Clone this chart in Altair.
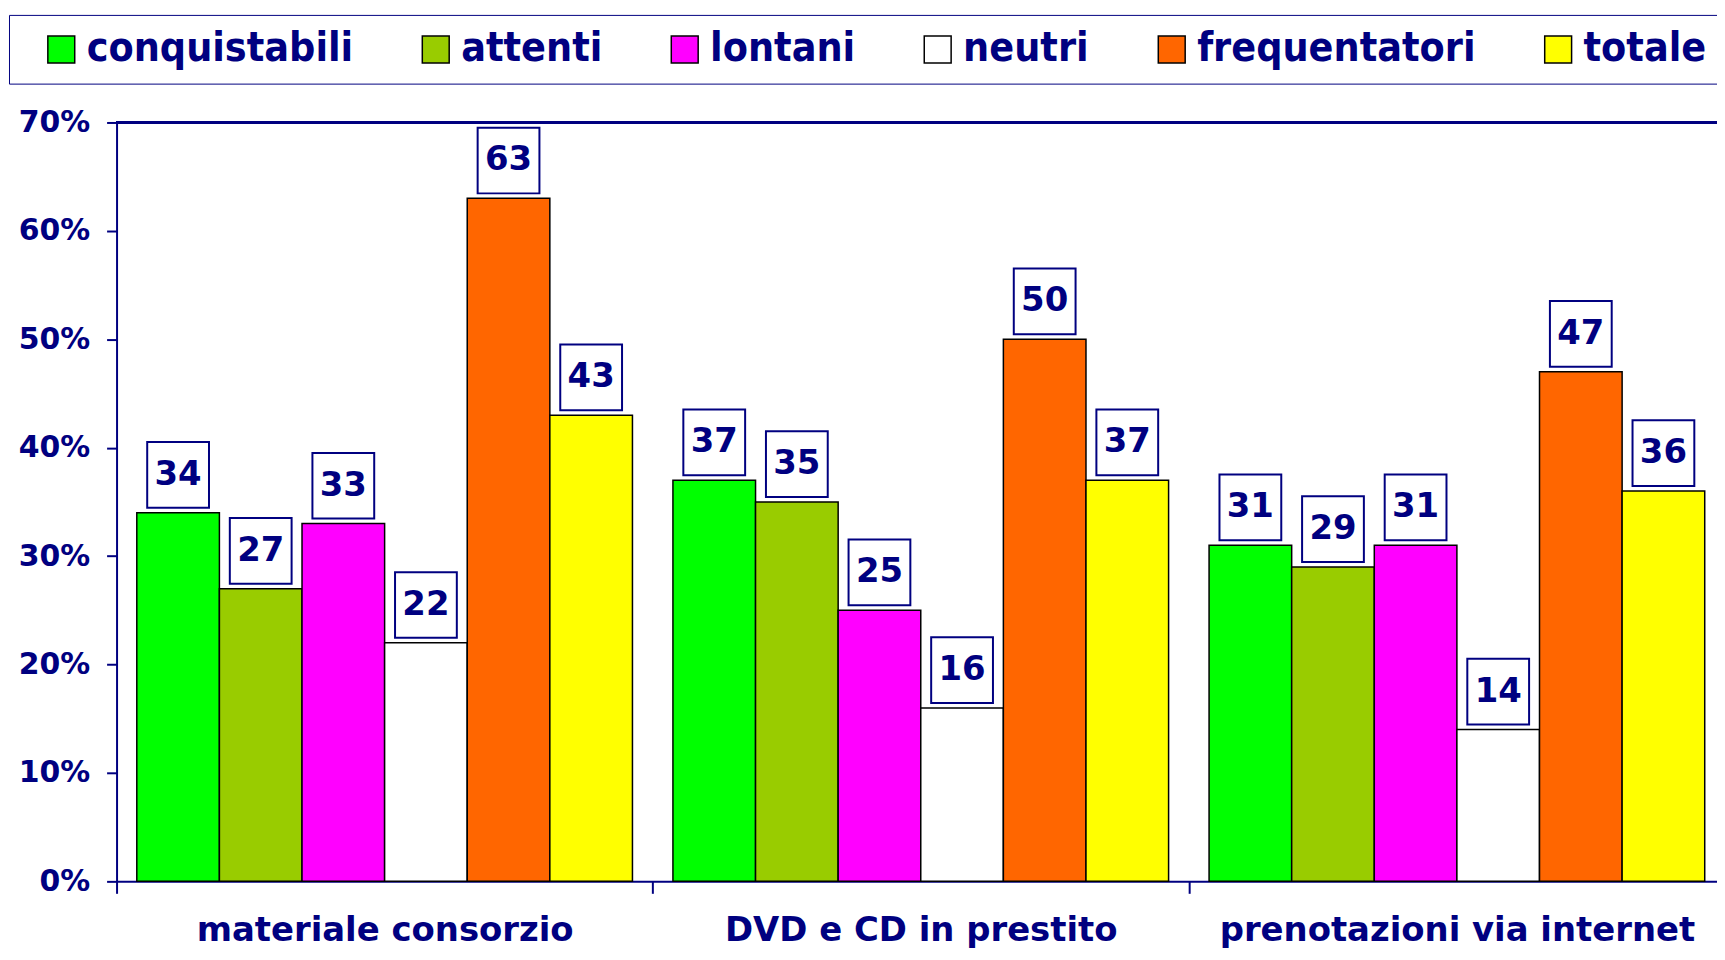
import altair as alt
import pandas as pd

categorie = ["materiale consorzio", "DVD e CD in prestito", "prenotazioni via internet"]
serie = ["conquistabili", "attenti", "lontani", "neutri", "frequentatori", "totale"]
colori = ["#00FF00", "#99CC00", "#FF00FF", "#FFFFFF", "#FF6600", "#FFFF00"]

conquistabili = [34, 37, 31]
attenti = [27, 35, 29]
lontani = [33, 25, 31]
neutri = [22, 16, 14]
frequentatori = [63, 50, 47]
totale = [43, 37, 36]

valori = {
    "conquistabili": conquistabili,
    "attenti": attenti,
    "lontani": lontani,
    "neutri": neutri,
    "frequentatori": frequentatori,
    "totale": totale,
}

righe = []
for s in serie:
    for c, v in zip(categorie, valori[s]):
        righe.append({"categoria": c, "serie": s, "valore": v / 100.0, "etichetta": str(v)})
df = pd.DataFrame(righe)

NAVY = "#000080"
BOLD = "DejaVu Sans"
NARROW = "DejaVu Sans Condensed, Liberation Sans Narrow, DejaVu Sans"

base = alt.Chart(df).encode(
    x=alt.X(
        "categoria:N",
        sort=categorie,
        scale=alt.Scale(range=[0, 1615], paddingInner=0, paddingOuter=0),
        axis=alt.Axis(
            title=None,
            labelAngle=0,
            labelFont=BOLD,
            labelFontWeight="bold",
            labelFontSize=34,
            labelColor=NAVY,
            labelBaseline="alphabetic",
            labelPadding=47,
            labelLimit=0,
            tickBand="extent",
            tickSize=12,
            tickColor=NAVY,
            tickWidth=2,
            domainColor=NAVY,
            domainWidth=2,
            grid=False,
        ),
    ),
    xOffset=alt.XOffset(
        "serie:N", sort=serie, scale=alt.Scale(paddingInner=0, paddingOuter=0.245)
    ),
    y=alt.Y(
        "valore:Q",
        scale=alt.Scale(domain=[0, 0.7], nice=False),
        axis=alt.Axis(
            title=None,
            format=".0%",
            values=[0, 0.1, 0.2, 0.3, 0.4, 0.5, 0.6, 0.7],
            labelFont=BOLD,
            labelFontWeight="bold",
            labelFontSize=30,
            labelColor=NAVY,
            labelPadding=17,
            tickSize=10,
            tickColor=NAVY,
            tickWidth=2,
            domainColor=NAVY,
            domainWidth=2,
            grid=False,
        ),
    ),
)

bars = base.mark_bar(stroke="black", strokeWidth=1.5).encode(
    color=alt.Color(
        "serie:N",
        sort=serie,
        scale=alt.Scale(domain=serie, range=colori),
        legend=alt.Legend(
            orient="none",
            legendX=-108,
            legendY=-108,
            direction="horizontal",
            title=" ",
            titleOrient="left",
            titleFontSize=10,
            titlePadding=18,
            symbolType="square",
            symbolSize=729,
            symbolStrokeColor="black",
            symbolStrokeWidth=1.5,
            symbolOpacity=1,
            labelFont=NARROW,
            labelFontWeight="bold",
            labelFontSize=41,
            labelColor=NAVY,
            labelOffset=5,
            labelLimit=0,
            columnPadding=62,
            padding=14,
            strokeColor=NAVY,
            fillColor="white",
        ),
    )
)

boxes = base.mark_point(
    shape="M-0.94,-1H0.94V1H-0.94Z",
    size=66 * 66,
    filled=True,
    fill="white",
    stroke=NAVY,
    strokeWidth=2,
    opacity=1,
    yOffset=-38,
)

texts = base.mark_text(
    font=BOLD,
    fontWeight="bold",
    fontSize=34,
    color=NAVY,
    dy=-38,
    baseline="middle",
).encode(text="etichetta:N")

top = alt.Chart(df).mark_rule(color=NAVY, strokeWidth=2).encode(y=alt.datum(0.7))

chart = (
    alt.layer(bars, boxes, texts, top)
    .properties(
        width=1607,
        height=762,
        padding={"left": 109, "top": 113, "right": 0, "bottom": 69},
        autosize=alt.AutoSizeParams(type="none"),
    )
    .configure_view(stroke=None)
)

chart.save("out.html", embed_options={"renderer": "svg", "actions": False})
